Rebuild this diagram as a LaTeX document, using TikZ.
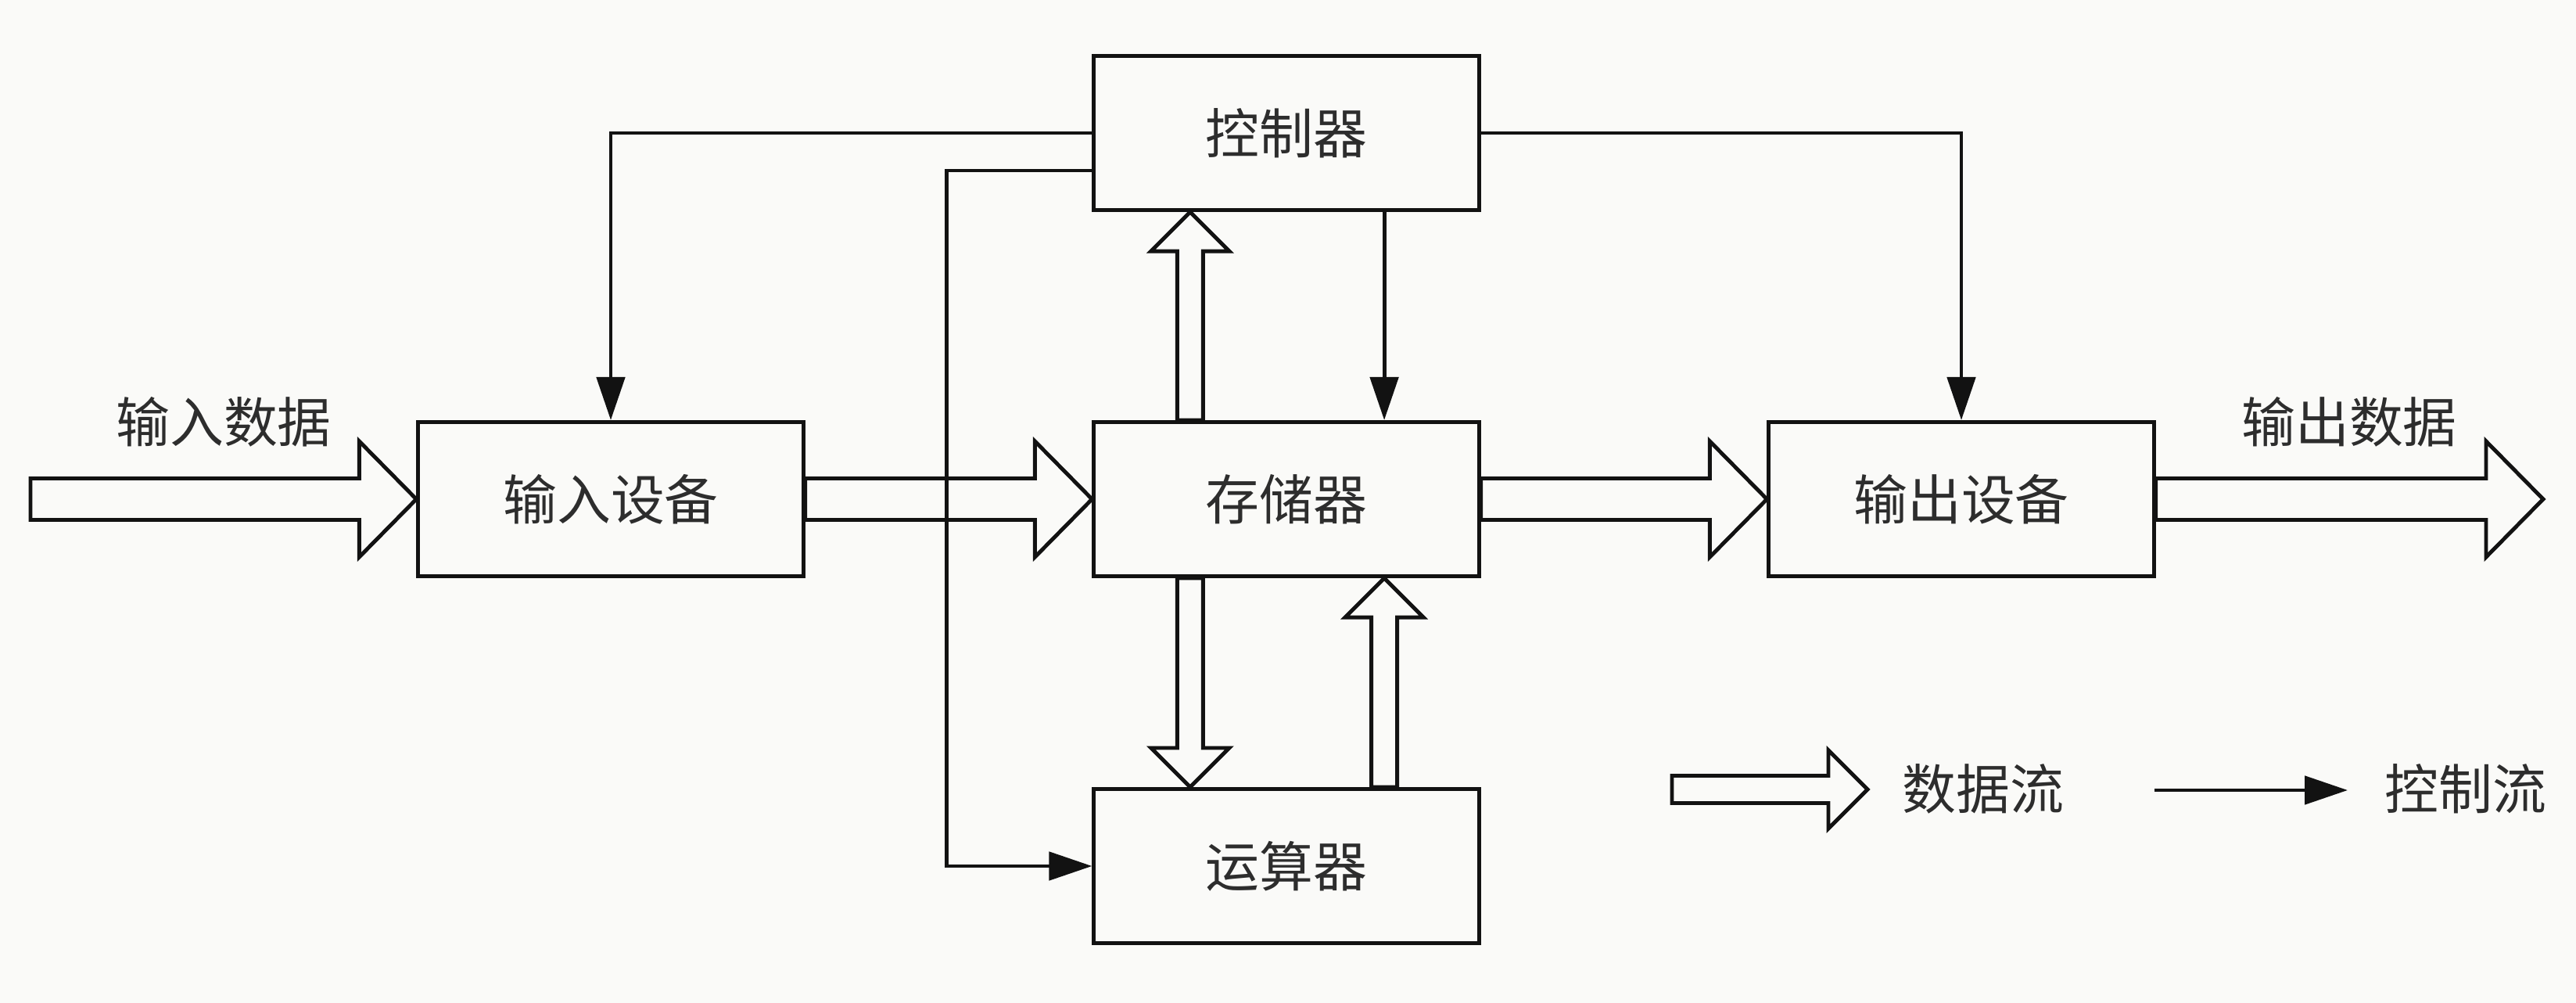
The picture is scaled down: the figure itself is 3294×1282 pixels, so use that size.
\documentclass[tikz,border=0pt]{standalone}
\usepackage{fontspec}
\setmainfont{Noto Sans CJK SC}
\usetikzlibrary{arrows.meta,calc}
\definecolor{bg}{RGB}{250,250,248}
\definecolor{ink}{RGB}{18,18,18}
\definecolor{txt}{RGB}{45,45,45}
% horizontal hollow arrow pointing right: start, end, shaft half width, head half width, head length
\newcommand\hollowRight[5]{%
  \draw[dataarrow] let \p1=(#1), \p2=(#2) in
    (\x1,\y1+#3) -- (\x2-#5,\y1+#3) -- (\x2-#5,\y1+#4) -- (\x2,\y1)
    -- (\x2-#5,\y1-#4) -- (\x2-#5,\y1-#3) -- (\x1,\y1-#3) -- cycle;}
% vertical hollow arrow pointing up
\newcommand\hollowUp[5]{%
  \draw[dataarrow] let \p1=(#1), \p2=(#2) in
    (\x1+#3,\y1) -- (\x1+#3,\y2-#5) -- (\x1+#4,\y2-#5) -- (\x1,\y2)
    -- (\x1-#4,\y2-#5) -- (\x1-#3,\y2-#5) -- (\x1-#3,\y1) -- cycle;}
% vertical hollow arrow pointing down
\newcommand\hollowDown[5]{%
  \draw[dataarrow] let \p1=(#1), \p2=(#2) in
    (\x1+#3,\y1) -- (\x1+#3,\y2+#5) -- (\x1+#4,\y2+#5) -- (\x1,\y2)
    -- (\x1-#4,\y2+#5) -- (\x1-#3,\y2+#5) -- (\x1-#3,\y1) -- cycle;}
\begin{document}
\begin{tikzpicture}[x=0.01cm,y=-0.01cm,
  box/.style={draw=ink,line width=1.4pt,minimum width=4.92cm,minimum height=1.97cm,inner sep=0pt},
  lbl/.style={text=txt,font=\fontsize{19.6pt}{22pt}\selectfont,inner sep=0pt},
  ctl/.style={draw=ink,line width=1.4pt,-{Triangle[length=0.55cm,width=0.36cm]}},
  dataarrow/.style={draw=ink,line width=1.4pt,line join=miter}]
\fill[bg] (0,0) rectangle (3294,1282);
\useasboundingbox (0,0) rectangle (3294,1282);

% boxes
\node[box,lbl] (ctrl) at (1645,170) {控制器};
\node[box,lbl] (mem)  at (1645,638) {存储器};
\node[box,lbl] (alu)  at (1645,1107) {运算器};
\node[box,lbl] (in)   at (781,638) {输入设备};
\node[box,lbl] (out)  at (2508,638) {输出设备};

% labels
\node[lbl] (inlbl)  at (286,539) {输入数据};
\node[lbl] (outlbl) at (3004,539) {输出数据};
\node[lbl] (lgd)    at (2536,1008) {数据流};
\node[lbl] (lgc)    at (3153,1008) {控制流};

% free ends
\coordinate (inStart) at (39,638);
\coordinate (outEnd)  at (3252,638);
\coordinate (lg1) at (2138,1009);
\coordinate (lg2) at (2388,1009);
\coordinate (lc1) at (2755,1010);
\coordinate (lc2) at (3002,1010);

% data flow (hollow arrows)
\hollowRight{inStart}{in.west}{0.265cm}{0.74cm}{0.73cm}
\hollowRight{in.east}{mem.west}{0.265cm}{0.74cm}{0.73cm}
\hollowRight{mem.east}{out.west}{0.265cm}{0.74cm}{0.73cm}
\hollowRight{out.east}{outEnd}{0.265cm}{0.74cm}{0.73cm}
\hollowUp{$(mem.north)+(-1.23cm,0)$}{$(ctrl.south)+(-1.23cm,0)$}{0.165cm}{0.5cm}{0.5cm}
\hollowDown{$(mem.south)+(-1.23cm,0)$}{$(alu.north)+(-1.23cm,0)$}{0.165cm}{0.5cm}{0.5cm}
\hollowUp{$(alu.north)+(1.25cm,0)$}{$(mem.south)+(1.25cm,0)$}{0.165cm}{0.5cm}{0.5cm}
\hollowRight{lg1}{lg2}{0.175cm}{0.5cm}{0.5cm}

% control flow
\draw[ctl] (ctrl.west) -| (in.north);
\draw[ctl] ([yshift=-0.48cm]ctrl.west) -- ++(-1.86cm,0) |- (alu.west);
\draw[ctl] (ctrl.east) -| (out.north);
\draw[ctl] ([xshift=1.25cm]ctrl.south) -- ([xshift=1.25cm]mem.north);
\draw[ctl] (lc1) -- (lc2);
\end{tikzpicture}
\end{document}
